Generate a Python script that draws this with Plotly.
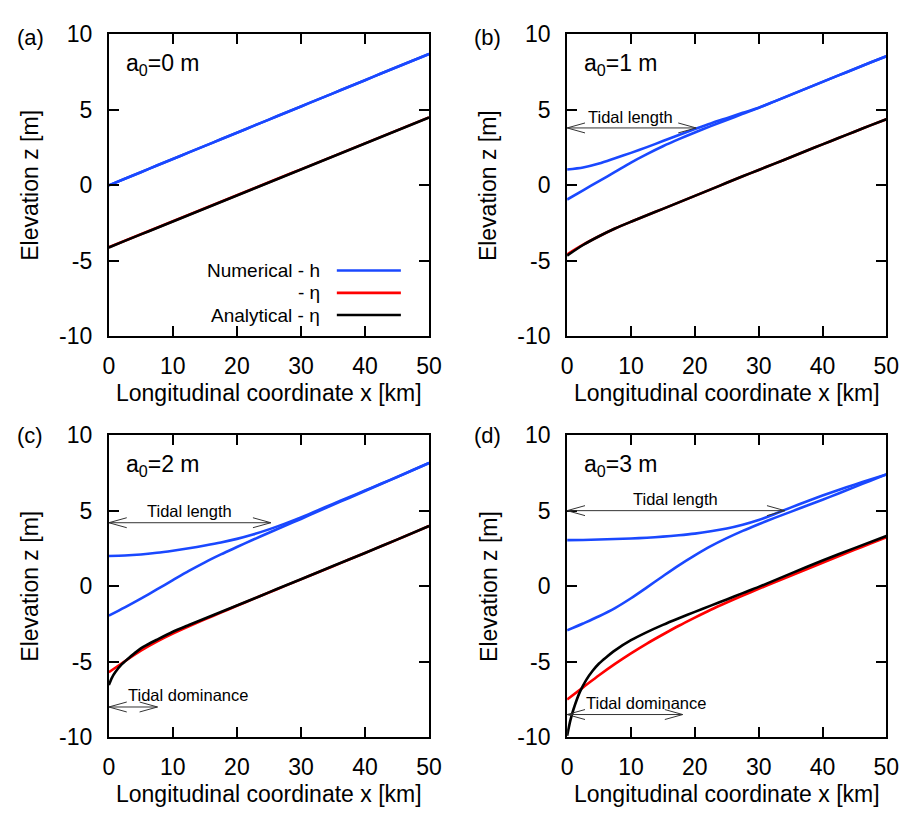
import plotly.graph_objects as go

# ---------------- data ----------------
x_km = [0, 2.5, 5, 7.5, 10, 12.5, 15, 17.5, 20, 22.5, 25, 27.5, 30, 32.5, 35, 37.5, 40, 42.5, 45, 47.5, 50]
x_km_fine = [0, 0.5, 1, 2, 3, 4, 5, 6, 7.5, 10, 12.5, 15, 17.5, 20, 22.5, 25, 27.5, 30, 35, 40, 45, 50]

# panel (a): a0 = 0 m
h_hw_a = [0.00, 0.44, 0.87, 1.31, 1.74, 2.18, 2.61, 3.05, 3.48, 3.92, 4.35, 4.79, 5.22, 5.66, 6.09, 6.53, 6.96, 7.40, 7.83, 8.27, 8.70]
h_lw_a = [0.00, 0.44, 0.87, 1.31, 1.74, 2.18, 2.61, 3.05, 3.48, 3.92, 4.35, 4.79, 5.22, 5.66, 6.09, 6.53, 6.96, 7.40, 7.83, 8.27, 8.70]
eta_num_a = [-4.10, -3.67, -3.24, -2.81, -2.38, -1.95, -1.52, -1.09, -0.66, -0.23, 0.20, 0.63, 1.06, 1.49, 1.92, 2.35, 2.78, 3.21, 3.64, 4.07, 4.50]
eta_ana_a = [-4.12, -3.68, -3.25, -2.82, -2.39, -1.96, -1.53, -1.10, -0.67, -0.24, 0.19, 0.62, 1.05, 1.48, 1.91, 2.34, 2.77, 3.20, 3.63, 4.06, 4.49]

# panel (b): a0 = 1 m
h_hw_b = [1.05, 1.18, 1.44, 1.79, 2.15, 2.53, 2.93, 3.33, 3.72, 4.10, 4.45, 4.80, 5.14, 5.56, 5.99, 6.42, 6.85, 7.28, 7.70, 8.13, 8.55]
h_lw_b = [-0.94, -0.33, 0.28, 0.89, 1.51, 2.07, 2.59, 3.06, 3.50, 3.92, 4.33, 4.73, 5.13, 5.56, 5.99, 6.42, 6.85, 7.28, 7.70, 8.13, 8.55]
eta_num_b = [-4.57, -3.93, -3.37, -2.86, -2.41, -1.98, -1.56, -1.13, -0.70, -0.27, 0.17, 0.60, 1.02, 1.44, 1.86, 2.29, 2.71, 3.13, 3.55, 3.97, 4.38]
eta_ana_b = [-4.65, -3.95, -3.37, -2.86, -2.41, -1.98, -1.56, -1.13, -0.70, -0.27, 0.17, 0.60, 1.02, 1.44, 1.86, 2.29, 2.71, 3.13, 3.55, 3.97, 4.38]

# panel (c): a0 = 2 m
h_hw_c = [2.00, 2.03, 2.10, 2.21, 2.35, 2.51, 2.69, 2.89, 3.13, 3.42, 3.76, 4.14, 4.55, 5.00, 5.45, 5.89, 6.33, 6.78, 7.23, 7.69, 8.15]
h_lw_c = [-1.95, -1.40, -0.82, -0.22, 0.40, 1.01, 1.58, 2.10, 2.59, 3.07, 3.54, 4.00, 4.45, 4.92, 5.38, 5.84, 6.30, 6.76, 7.22, 7.69, 8.15]
eta_num_c = [-5.70, -4.97, -4.27, -3.67, -3.14, -2.66, -2.20, -1.75, -1.30, -0.86, -0.42, 0.02, 0.45, 0.89, 1.32, 1.76, 2.20, 2.64, 3.08, 3.53, 3.98]
eta_ana_c = [-6.55, -6.05, -5.70, -5.18, -4.80, -4.45, -4.12, -3.88, -3.55, -3.02, -2.57, -2.14, -1.71, -1.28, -0.85, -0.41, 0.03, 0.46, 1.33, 2.20, 3.08, 3.98]

# panel (d): a0 = 3 m
h_hw_d = [3.05, 3.06, 3.09, 3.12, 3.16, 3.21, 3.28, 3.37, 3.48, 3.63, 3.82, 4.07, 4.38, 4.78, 5.20, 5.61, 6.00, 6.37, 6.72, 7.06, 7.40]
h_lw_d = [-2.93, -2.47, -1.99, -1.45, -0.80, -0.08, 0.66, 1.38, 2.04, 2.65, 3.18, 3.66, 4.10, 4.52, 4.92, 5.32, 5.72, 6.14, 6.56, 6.98, 7.40]
eta_num_d = [-7.50, -6.70, -5.90, -5.15, -4.45, -3.80, -3.20, -2.62, -2.08, -1.56, -1.08, -0.62, -0.18, 0.25, 0.68, 1.12, 1.55, 1.98, 2.40, 2.82, 3.23]
eta_ana_d = [-9.90, -8.90, -8.15, -7.00, -6.20, -5.60, -5.12, -4.75, -4.25, -3.58, -3.04, -2.56, -2.12, -1.70, -1.29, -0.88, -0.46, -0.05, 0.83, 1.70, 2.52, 3.32]

panel_letters = ["(a)", "(b)", "(c)", "(d)"]
amplitude_labels = ["a<sub>0</sub>=0 m", "a<sub>0</sub>=1 m", "a<sub>0</sub>=2 m", "a<sub>0</sub>=3 m"]
x_title = "Longitudinal coordinate x [km]"
y_title = "Elevation z [m]"

legend_labels = ["Numerical - h", "- η", "Analytical - η"]

# arrow annotations: (panel index, x_end, y, text, text_x, text_y)
arrow_panels = [1, 2, 2, 3, 3]
arrow_x_end = [20.2, 25.3, 7.6, 34.1, 18.1]
arrow_y = [3.8, 4.2, -8.0, 5.0, -8.5]
arrow_text = ["Tidal length", "Tidal length", "Tidal dominance", "Tidal length", "Tidal dominance"]
arrow_text_x = [10.0, 12.6, 12.3, 16.9, 12.3]
arrow_text_y = [4.55, 5.0, -7.2, 5.8, -7.75]

x_ticks = [0, 10, 20, 30, 40, 50]
x_tick_text = ["0", "10", "20", "30", "40", "50"]
y_ticks = [-10, -5, 0, 5, 10]
y_tick_text = ["-10", "-5", "0", "5", "10"]

# ---------------- style ----------------
BLUE = "#1a48ff"
RED = "#ff0000"
BLACK = "#000000"
FONT = "Liberation Sans, Arial, Helvetica, sans-serif"
LW = 2.6

W, H = 917, 817
col_px = [(105, 432), (573, 899)]
row_px = [(22, 334), (436, 748)]

panels = [
    (h_hw_a, h_lw_a, eta_num_a, eta_ana_a, x_km),
    (h_hw_b, h_lw_b, eta_num_b, eta_ana_b, x_km),
    (h_hw_c, h_lw_c, eta_num_c, eta_ana_c, x_km_fine),
    (h_hw_d, h_lw_d, eta_num_d, eta_ana_d, x_km_fine),
]

fig = go.Figure()
annotations = []
shapes = []

for i, (hw, lw, en, ea, xa_vals) in enumerate(panels):
    r, c = divmod(i, 2)
    k = "" if i == 0 else str(i + 1)
    xa, ya = "x" + k, "y" + k
    for xx, yy, col in [(x_km, hw, BLUE), (x_km, lw, BLUE), (x_km, en, RED), (xa_vals, ea, BLACK)]:
        fig.add_trace(go.Scatter(x=xx, y=yy, mode="lines", xaxis=xa, yaxis=ya,
                                 line=dict(color=col, width=LW, shape="spline", smoothing=0.8),
                                 showlegend=False, hoverinfo="skip"))
    x0p, x1p = col_px[c]
    y0p, y1p = row_px[r]
    common = dict(showline=True, linewidth=2, linecolor="black", mirror="ticks",
                  ticks="inside", ticklen=10, tickwidth=1.5, tickcolor="black",
                  showgrid=False, zeroline=False,
                  tickfont=dict(family=FONT, size=23, color="black"))
    fig.layout["xaxis" + k] = dict(common, domain=[x0p / W, x1p / W], range=[0, 50],
                                   tickvals=x_ticks, ticktext=x_tick_text, anchor=ya,
                                   ticklabelstandoff=8)
    fig.layout["yaxis" + k] = dict(common, domain=[1 - y1p / H, 1 - y0p / H], range=[-10, 10],
                                   tickvals=y_ticks, ticktext=y_tick_text, anchor=xa,
                                   ticklabelstandoff=10)
    # axis titles
    annotations.append(dict(text=x_title, xref="paper", yref="paper",
                            x=(x0p + x1p) / 2 / W, y=1 - (y1p + 59) / H,
                            xanchor="center", yanchor="middle", showarrow=False,
                            font=dict(family=FONT, size=23, color="black")))
    annotations.append(dict(text=y_title, xref="paper", yref="paper", textangle=-90,
                            x=(x0p - 80) / W, y=1 - (y0p + y1p) / 2 / H,
                            xanchor="center", yanchor="middle", showarrow=False,
                            font=dict(family=FONT, size=23, color="black")))
    # panel letter
    annotations.append(dict(text=panel_letters[i], xref="paper", yref="paper",
                            x=(25 if c == 0 else 492) / W, y=1 - (25 if r == 0 else 436) / H,
                            xanchor="center", yanchor="middle", showarrow=False,
                            font=dict(family=FONT, size=22, color="black")))
    # amplitude label
    annotations.append(dict(text=amplitude_labels[i], xref=xa + " domain", yref=ya + " domain",
                            x=0.047, y=0.9, xanchor="left", yanchor="middle",
                            showarrow=False, font=dict(family=FONT, size=23, color="black")))

# arrows with open V heads
HEAD_DX = 2.8
HEAD_DY = 0.33
for p, xe, yv, txt, tx, ty in zip(arrow_panels, arrow_x_end, arrow_y, arrow_text, arrow_text_x, arrow_text_y):
    k = "" if p == 0 else str(p + 1)
    xa, ya = "x" + k, "y" + k
    sty = dict(color="#333333", width=1)
    shapes.append(dict(type="line", xref=xa, yref=ya, x0=0, x1=xe, y0=yv, y1=yv, line=sty))
    for xs, sgn in [(0, 1), (xe, -1)]:
        for d in (1, -1):
            shapes.append(dict(type="line", xref=xa, yref=ya, x0=xs, y0=yv,
                               x1=xs + sgn * HEAD_DX, y1=yv + d * HEAD_DY, line=sty))
    annotations.append(dict(text=txt, xref=xa, yref=ya, x=tx, y=ty, showarrow=False,
                            xanchor="center", yanchor="middle",
                            font=dict(family=FONT, size=16.5, color="black")))

# custom gnuplot-style legend in panel (a)
leg_colors = [BLUE, RED, BLACK]
leg_y = [-5.64, -7.12, -8.59]
for lab, col, yv in zip(legend_labels, leg_colors, leg_y):
    shapes.append(dict(type="line", xref="x", yref="y", x0=35.6, x1=45.6, y0=yv, y1=yv,
                       line=dict(color=col, width=LW)))
    annotations.append(dict(text=lab, xref="x", yref="y", x=33.3, y=yv, xanchor="right",
                            yanchor="middle", showarrow=False,
                            font=dict(family=FONT, size=19, color="black")))

fig.update_layout(width=W, height=H, margin=dict(l=0, r=0, t=0, b=0),
                  paper_bgcolor="white", plot_bgcolor="white",
                  annotations=annotations, shapes=shapes, showlegend=False,
                  font=dict(family=FONT, color="black"))

fig.write_html("out.html")
